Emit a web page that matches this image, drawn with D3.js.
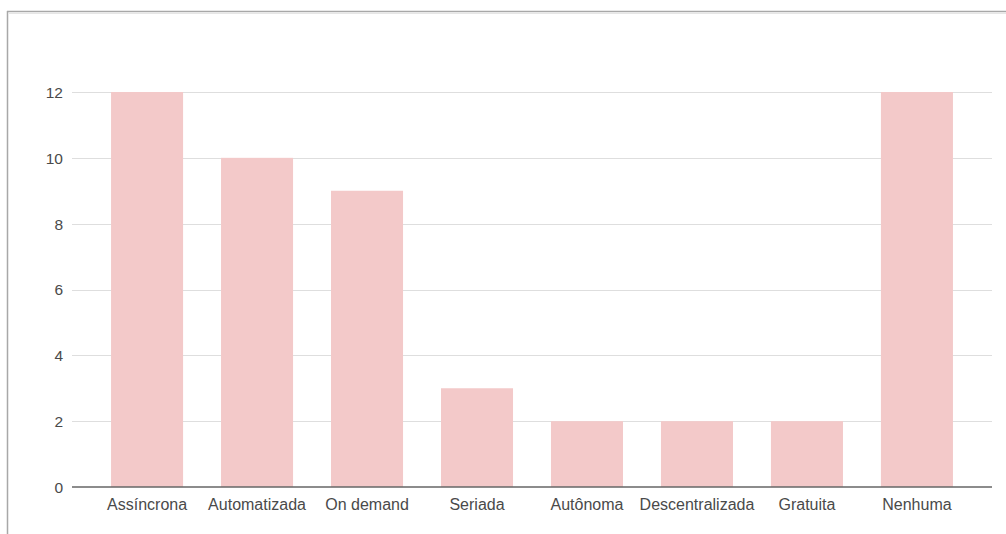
<!DOCTYPE html>
<html>
<head>
<meta charset="utf-8">
<script src="https://cdn.jsdelivr.net/npm/d3@7"></script>
<style>
  html, body { margin: 0; padding: 0; background: #fff; }
  svg { display: block; }
</style>
</head>
<body>
<svg id="chart" width="1006" height="534"></svg>
<script>
const categories = ["Assíncrona", "Automatizada", "On demand", "Seriada", "Autônoma", "Descentralizada", "Gratuita", "Nenhuma"];
const values = [12, 10, 9, 3, 2, 2, 2, 12];
const yTicks = [0, 2, 4, 6, 8, 10, 12];

const svg = d3.select("#chart");
const W = 1006, H = 534;

// frame (top + left border of the screenshot)
svg.append("line").attr("x1", 7).attr("x2", W).attr("y1", 11.5).attr("y2", 11.5)
  .attr("stroke", "#a8a8a8").attr("stroke-width", 1.5);
svg.append("line").attr("x1", 7.5).attr("x2", 7.5).attr("y1", 11).attr("y2", H)
  .attr("stroke", "#a8a8a8").attr("stroke-width", 1.5);
svg.append("line").attr("x1", 9).attr("x2", W).attr("y1", 13.5).attr("y2", 13.5)
  .attr("stroke", "#e6e6e6").attr("stroke-width", 1);

const x = d3.scaleBand().domain(categories).range([72, 992])
  .paddingInner(0.345).paddingOuter(0.355);
const y = d3.scaleLinear().domain([0, 12]).range([487, 92]);

// gridlines
svg.append("g").selectAll("line").data(yTicks.filter(d => d !== 0)).join("line")
  .attr("x1", 72).attr("x2", 992)
  .attr("y1", d => Math.round(y(d)) + 0.5).attr("y2", d => Math.round(y(d)) + 0.5)
  .attr("stroke", "#dedede").attr("stroke-width", 1.2);

// bars
svg.append("g").selectAll("rect").data(values).join("rect")
  .attr("x", (d, i) => x(categories[i]))
  .attr("width", x.bandwidth())
  .attr("y", d => y(d))
  .attr("height", d => y(0) - y(d))
  .attr("fill", "#f3c9c9");

// baseline
svg.append("line").attr("x1", 72).attr("x2", 992).attr("y1", y(0)).attr("y2", y(0))
  .attr("stroke", "#666").attr("stroke-width", 1.6);

// y axis labels
const yAxis = d3.axisLeft(y).tickValues(yTicks).tickSize(0).tickPadding(0);
const gy = svg.append("g").attr("transform", "translate(63,0)").call(yAxis);
gy.select(".domain").remove();
gy.selectAll("text").attr("font-family", "'Liberation Sans', Arial, sans-serif")
  .attr("font-size", "15.5px").attr("fill", "#4a4a4a").attr("dy", "0.35em");

// x axis labels
const xAxis = d3.axisBottom(x).tickSize(0).tickPadding(0);
const gx = svg.append("g").attr("transform", "translate(0,497)").call(xAxis);
gx.select(".domain").remove();
gx.selectAll("text").attr("font-family", "'Liberation Sans', Arial, sans-serif")
  .attr("font-size", "16px").attr("fill", "#4a4a4a").attr("dy", "0.8em");
</script>
</body>
</html>
